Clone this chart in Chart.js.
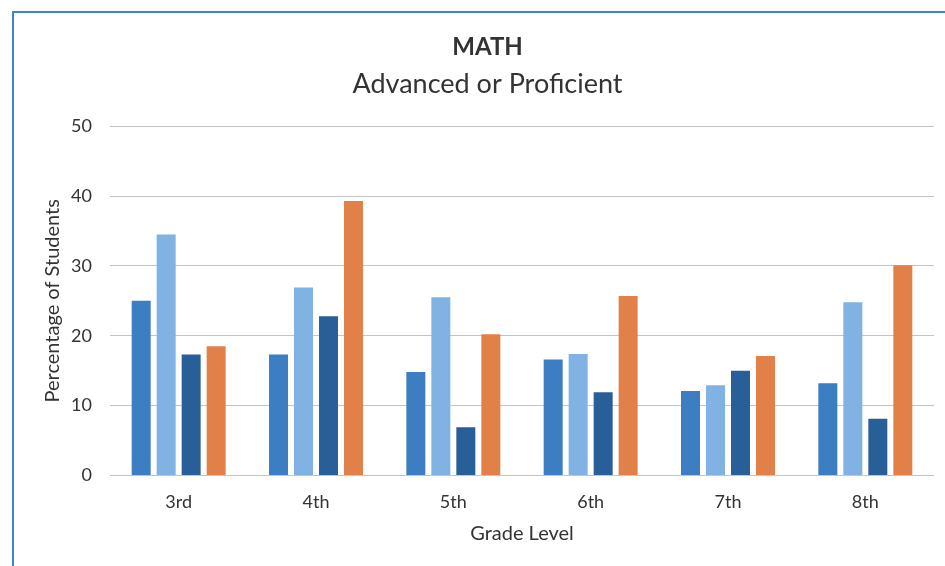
<!DOCTYPE html>
<html>
<head>
<meta charset="utf-8">
<script src="https://cdn.jsdelivr.net/npm/chart.js@4/dist/chart.umd.min.js"></script>
<style>
  html, body { margin: 0; padding: 0; background: #ffffff; overflow: hidden; }
  #frame { position: absolute; left: 12px; top: 11px; width: 960px; height: 600px;
           border-left: 2px solid #3f82c9; border-top: 2px solid #3f82c9; }
  #wrap { position: absolute; left: 0; top: 0; width: 945px; height: 566px; }
</style>
</head>
<body>
<div id="frame"></div>
<div id="wrap"><canvas id="c" width="945" height="566"></canvas></div>
<script>
const categories = ["3rd", "4th", "5th", "6th", "7th", "8th"];
const series1 = [25.0, 17.3, 14.8, 16.6, 12.1, 13.2];
const series2 = [34.5, 26.9, 25.5, 17.4, 12.9, 24.8];
const series3 = [17.3, 22.8, 6.9, 11.9, 15.0, 8.1];
const series4 = [18.5, 39.3, 20.2, 25.7, 17.1, 30.1];
const seriesNames = ["Series 1", "Series 2", "Series 3", "Series 4"];
const yTicks = [0, 10, 20, 30, 40, 50];

const colors = ["#3d7ec3", "#80b2e3", "#295f98", "#e2804a"];
const font = "Lato, 'Open Sans', 'Liberation Sans', sans-serif";
const textColor = "#333333";

new Chart(document.getElementById("c"), {
  type: "bar",
  data: {
    labels: categories,
    datasets: [series1, series2, series3, series4].map((d, i) => ({
      label: seriesNames[i],
      data: d,
      backgroundColor: colors[i],
      borderWidth: 0,
      categoryPercentage: 0.728,
      barPercentage: 0.76
    }))
  },
  options: {
    responsive: false,
    animation: false,
    devicePixelRatio: 1,
    layout: { padding: { left: 41, right: 11, top: 33, bottom: 20 } },
    plugins: {
      legend: { display: false },
      tooltip: { enabled: false },
      title: {
        display: true,
        text: "MATH",
        color: textColor,
        font: { family: font, size: 24, weight: "bold" },
        padding: { top: 0, bottom: 6 }
      },
      subtitle: {
        display: true,
        text: "Advanced or Proficient",
        color: textColor,
        font: { family: font, size: 27, weight: "normal" },
        padding: { top: 0, bottom: 26 }
      }
    },
    scales: {
      x: {
        grid: { display: false, drawTicks: false },
        border: { display: false },
        ticks: { color: textColor, font: { family: font, size: 18 }, padding: 16 },
        title: {
          display: true,
          text: "Grade Level",
          color: textColor,
          font: { family: font, size: 20 },
          padding: { top: -7, bottom: 0 }
        }
      },
      y: {
        min: 0,
        max: 50,
        afterBuildTicks: (s) => { s.ticks = yTicks.map(v => ({ value: v })); },
        afterFit: (s) => { s.width = 69; },
        grid: { color: "#c4c4c4", lineWidth: 1, drawTicks: false },
        border: { display: false },
        ticks: { color: textColor, font: { family: font, size: 18 }, padding: 18 },
        title: {
          display: true,
          text: "Percentage of Students",
          color: textColor,
          font: { family: font, size: 20 },
          padding: { top: 0, bottom: 0 }
        }
      }
    }
  }
});
</script>
</body>
</html>
